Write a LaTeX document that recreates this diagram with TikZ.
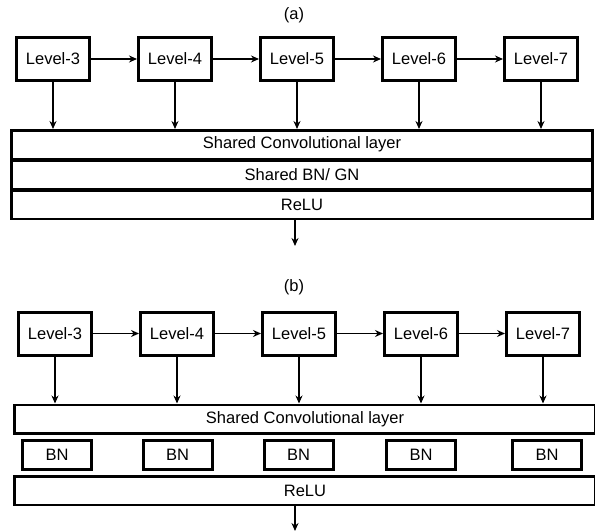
\documentclass[tikz,border=0pt]{standalone}
\usepackage{fontspec}
\setmainfont{Liberation Sans}
\usetikzlibrary{arrows.meta}
\usetikzlibrary{positioning}

\begin{document}
\begin{tikzpicture}[x=1pt,y=-1pt,->,>={Stealth[length=8pt,width=7pt]},line width=1.5pt,node distance=46pt]
	\tikzstyle{txt}=[font=\fontsize{16.5}{18}\selectfont]
	\tikzstyle{level}=[txt, draw, line width=3pt, minimum width=73pt, minimum height=43pt, inner sep=0pt]
	\tikzstyle{layer}=[txt, draw, line width=2.5pt, minimum width=581pt, minimum height=28.5pt, inner sep=0pt]
	\tikzstyle{bn}=[txt, draw, line width=3pt, minimum width=69pt, minimum height=29pt, inner sep=0pt]
	\useasboundingbox (0,0) rectangle (595,531);
	\clip (0,0) rectangle (595,531);

	% (a)
	\node[txt] (capa) at (294,15) {(a)};
	\node[level] (l3a) at (53,59) {Level-3};
	\node[level] (l4a) [right=of l3a] {Level-4};
	\node[level] (l5a) [right=of l4a] {Level-5};
	\node[level] (l6a) [right=of l5a] {Level-6};
	\node[level] (l7a) [right=of l6a] {Level-7};
	\node[layer] (conva) at (302,144.5) {Shared Convolutional layer};
	\node[layer] (norma) at (302,174.5) {Shared BN/ GN};
	\node[layer] (relua) at (302,204.5) {ReLU};
	\coordinate (outa) at (295,246);
	\path
		(l3a) edge (l4a)
		(l4a) edge (l5a)
		(l5a) edge (l6a)
		(l6a) edge (l7a);
	\draw (l3a) -- (l3a |- conva.north);
	\draw (l4a) -- (l4a |- conva.north);
	\draw (l5a) -- (l5a |- conva.north);
	\draw (l6a) -- (l6a |- conva.north);
	\draw (l7a) -- (l7a |- conva.north);
	\draw (outa |- relua.south) -- (outa);

	% (b)
	\node[txt] (capb) at (294,287) {(b)};
	\node[level] (l3b) at (55,333.5) {Level-3};
	\node[level] (l4b) [right=of l3b] {Level-4};
	\node[level] (l5b) [right=of l4b] {Level-5};
	\node[level] (l6b) [right=of l5b] {Level-6};
	\node[level] (l7b) [right=of l6b] {Level-7};
	\node[layer] (convb) at (305,419) {Shared Convolutional layer};
	\node[bn] (bn3) at (57,455) {BN};
	\node[bn] (bn4) at (177.5,455) {BN};
	\node[bn] (bn5) at (298.5,455) {BN};
	\node[bn] (bn6) at (421,455) {BN};
	\node[bn] (bn7) at (547,455) {BN};
	\node[layer] (relub) at (305,490.5) {ReLU};
	\coordinate (outb) at (295,531);
	\path
		(l3b) edge (l4b)
		(l4b) edge (l5b)
		(l5b) edge (l6b)
		(l6b) edge (l7b);
	\draw (l3b) -- (l3b |- convb.north);
	\draw (l4b) -- (l4b |- convb.north);
	\draw (l5b) -- (l5b |- convb.north);
	\draw (l6b) -- (l6b |- convb.north);
	\draw (l7b) -- (l7b |- convb.north);
	\draw (outb |- relub.south) -- (outb);
\end{tikzpicture}
\end{document}
